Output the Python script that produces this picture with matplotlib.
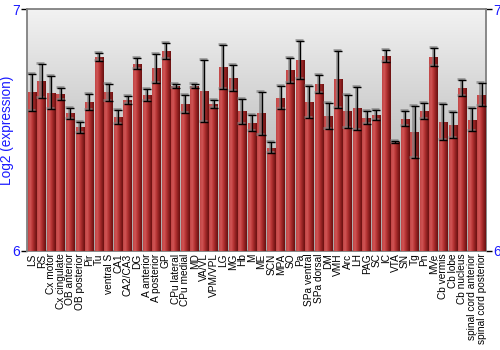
import numpy as np
import matplotlib
matplotlib.use("Agg")
import matplotlib.pyplot as plt
from matplotlib.colors import LinearSegmentedColormap
import matplotlib.transforms as mtransforms

plt.rcParams['font.family'] = ['Liberation Sans', 'DejaVu Sans']

# brain regions along the x axis
regions = ["LS", "RS", "Cx motor", "Cx cingulate", "OB anterior", "OB posterior",
           "Pir", "Tu", "ventral S", "CA1", "CA2/CA3", "DG", "A anterior",
           "A posterior", "GP", "CPu lateral", "CPu medial", "MD", "VA/VL",
           "VPM/VPL", "LG", "MG", "Hb", "M", "ME", "SCN", "MPA", "SO", "Pa",
           "SPa ventral", "SPa dorsal", "DM", "VMH", "Arc", "LH", "PAG", "SC",
           "IC", "VTA", "SN", "Tg", "Pn", "MVe", "Cb vermis", "Cb lobe",
           "Cb nucleus", "spinal cord anterior", "spinal cord posterior"]

# mean log2 expression
means = [6.656, 6.702, 6.655, 6.649, 6.569, 6.512, 6.617, 6.802, 6.656, 6.553,
         6.624, 6.775, 6.645, 6.756, 6.827, 6.682, 6.606, 6.682, 6.662, 6.608,
         6.760, 6.715, 6.577, 6.528, 6.569, 6.427, 6.634, 6.747, 6.789, 6.616,
         6.690, 6.558, 6.710, 6.577, 6.591, 6.551, 6.562, 6.807, 6.450, 6.546,
         6.492, 6.579, 6.802, 6.532, 6.519, 6.674, 6.543, 6.646]

# error (half length of error bar)
errs = [0.076, 0.070, 0.067, 0.025, 0.024, 0.023, 0.033, 0.015, 0.035, 0.028,
        0.018, 0.022, 0.024, 0.060, 0.032, 0.008, 0.037, 0.008, 0.130, 0.015,
        0.092, 0.055, 0.051, 0.033, 0.090, 0.023, 0.048, 0.053, 0.078, 0.066,
        0.037, 0.054, 0.119, 0.070, 0.089, 0.027, 0.021, 0.026, 0.003, 0.031,
        0.109, 0.034, 0.037, 0.075, 0.054, 0.032, 0.047, 0.047]

y_min, y_max = 6, 7
blue = '#1a1aff'

fig = plt.figure(figsize=(5, 3.5), dpi=100)
ax = fig.add_axes([0.0546, 0.2837, 0.918, 0.6897])

x = np.arange(len(regions))

# gray gradient background
bg = LinearSegmentedColormap.from_list('bg', ['#a8a8a8', '#c8c8c8', '#f2f2f2'])
ax.imshow(np.linspace(0, 1, 256).reshape(-1, 1), cmap=bg, origin='lower',
          extent=[0, 1, 0, 1], transform=ax.transAxes, aspect='auto', zorder=0)

bars = ax.bar(x, [m - y_min for m in means], bottom=y_min, width=0.9,
              color='#b03030', edgecolor='none', zorder=2)

# horizontal shading on each bar
shade = LinearSegmentedColormap.from_list('shade', ['#c04545', '#d05555', '#b83535',
                                                     '#8e2020', '#6a1010'])
grad = np.linspace(0, 1, 64).reshape(1, -1)
for b in bars:
    x0, w, h = b.get_x(), b.get_width(), b.get_height()
    im = ax.imshow(grad, cmap=shade, aspect='auto', zorder=3,
                   extent=[x0, x0 + w, y_min, y_min + h])
    im.set_clip_path(b)

# error bars with a soft gray shadow
shadow = mtransforms.offset_copy(ax.transData, fig=fig, x=-1.2, y=1.0, units='dots')
ax.errorbar(x, means, yerr=errs, fmt='none', ecolor='#808080', elinewidth=2.0,
            capsize=3.2, capthick=2.0, alpha=0.7, transform=shadow, zorder=4)
ax.errorbar(x, means, yerr=errs, fmt='none', ecolor='black', elinewidth=1,
            capsize=3, capthick=1, zorder=5)

ax.set_xlim(-0.5, len(regions) - 0.5)
ax.set_ylim(y_min, y_max)
ax.set_xticks(x)
ax.set_xticklabels(regions, rotation=90, fontsize=7.3)
ax.tick_params(axis='x', length=0, pad=2)
ax.set_yticks([6, 7])
ax.tick_params(axis='y', labelsize=10, labelcolor=blue, length=4, width=1,
               color='black', pad=1, right=True, labelright=True)
ax.set_ylabel("Log2 (expression)", color=blue, fontsize=9.8, labelpad=-1)

for s in ax.spines.values():
    s.set_color('#808080')
    s.set_linewidth(1.3)

fig.savefig('out.png', dpi=100)
